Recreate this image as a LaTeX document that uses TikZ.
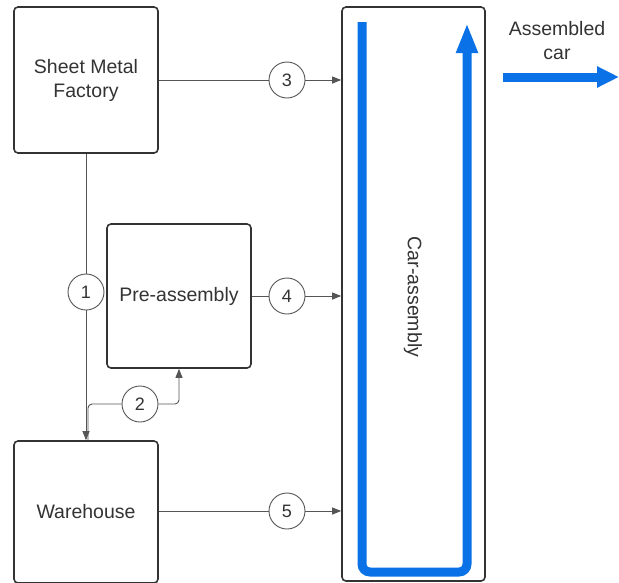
\documentclass[tikz,border=0pt]{standalone}
\usepackage{fontspec}
\setmainfont{Liberation Sans}
\usetikzlibrary{arrows.meta,calc}
\definecolor{txt}{HTML}{333333}
\definecolor{ln}{HTML}{555555}
\definecolor{blu}{HTML}{0A72E6}
\begin{document}
\begin{tikzpicture}[x=1pt,y=-1pt,
 box/.style={draw=txt, line width=1.6pt, rounded corners=4pt, fill=white, text=txt, font=\fontsize{19.5}{24}\selectfont, align=center, inner sep=0pt},
 num/.style={circle, draw=ln, line width=0.9pt, minimum size=36pt, inner sep=0pt, fill=white, text=txt, font=\fontsize{18}{20}\selectfont},
 conn/.style={draw=ln, line width=0.9pt},
 arr/.style={conn, -{Triangle[length=9pt,width=7pt]}},
 flow/.style={draw=blu, line width=9pt},
 lbl/.style={text=txt, font=\fontsize{19.5}{24}\selectfont, align=center, inner sep=0pt}
]
\useasboundingbox (0,0) rectangle (619,582);
\clip (0,0) rectangle (619,582);
% boxes
\node[box, minimum width=144pt, minimum height=146pt] (smf) at (86,80) {Sheet Metal\\Factory};
\node[box, minimum width=144pt, minimum height=144pt] (pre) at (179,296) {Pre-assembly};
\node[box, minimum width=144pt, minimum height=142pt] (wh) at (86,512) {Warehouse};
\node[box, minimum width=143pt, minimum height=574pt] (car) at (413.5,294) {};
\node[lbl, rotate=-90] (ct) at (413,297) {Car-assembly};
% numbered circles
\node[num] (c1) at (86,292) {1};
\node[num] (c2) at (140,404) {2};
\node[num] (c3) at (287,80) {3};
\node[num] (c4) at (287,296) {4};
\node[num] (c5) at (287,511) {5};
% connectors
\draw[conn] (smf.east) -- (c3);
\draw[arr] (c3) -- (c3 -| car.west);
\draw[conn] (pre.east |- c4) -- (c4);
\draw[arr] (c4) -- (c4 -| car.west);
\draw[conn] (wh.east |- c5) -- (c5);
\draw[arr] (c5) -- (c5 -| car.west);
\draw[conn] (smf.south) -- (c1);
\draw[arr] (c1) -- (wh.north -| c1);
\draw[conn, rounded corners=4pt] (c2) -| ($(wh.north)+(2,0)$);
\draw[arr, rounded corners=4pt] (c2) -| (pre.south);
% blue flow
\coordinate (u0) at (362,22);
\coordinate (u1) at (362,572);
\coordinate (u2) at (467,572);
\coordinate (u3) at (467,23);
\draw[flow, rounded corners=8pt, -{Triangle[length=30pt,width=20pt]}] (u0) -- (u1) -- (u2) -- (u3);
\node[lbl] (ac) at (557,41) {Assembled\\car};
\coordinate (a0) at (503,77);
\coordinate (a1) at (619,77);
\draw[flow, -{Triangle[length=22pt,width=20pt]}] (a0) -- (a1);
\end{tikzpicture}
\end{document}
